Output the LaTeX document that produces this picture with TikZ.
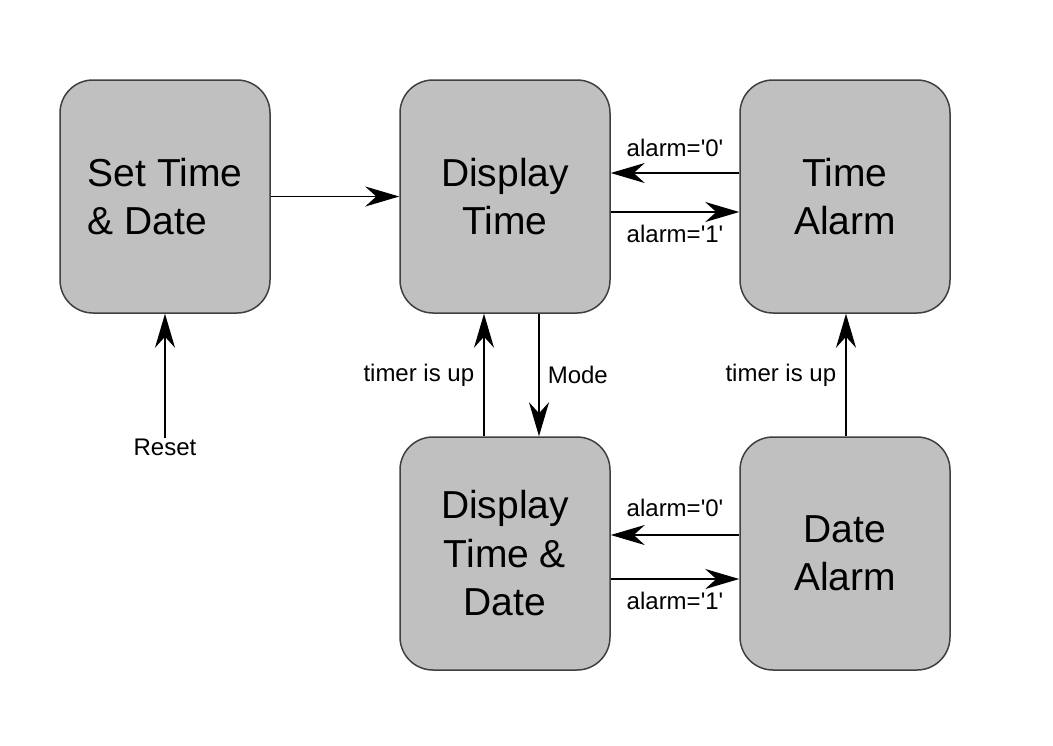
\documentclass[tikz,border=0pt]{standalone}
\usepackage{fontspec}
\setmainfont{Liberation Sans}
\usetikzlibrary{arrows.meta}
\definecolor{boxfill}{RGB}{192,192,192}
\definecolor{boxline}{RGB}{64,64,64}
\newcommand{\sq}{\textquotesingle}
\tikzset{
  statebox/.style={draw=boxline, line width=1.5pt, fill=boxfill, rounded corners=33pt,
    minimum width=210pt, minimum height=233pt, inner sep=0pt,
    font=\fontsize{39}{48.5}\selectfont, align=center},
  arr/.style={line width=1.6pt, -{Stealth[length=34pt, width=20pt, inset=11pt]}},
  lbl/.style={font=\fontsize{24}{28}\selectfont, inner sep=0pt, text=black}
}
\begin{document}
\begin{tikzpicture}[x=1pt, y=-1pt]
\useasboundingbox[fill=white] (0,0) rectangle (1053,745);
\node[statebox, align=left] (A) at (165,196.5) {Set Time\\\& Date};
\node[statebox] (B) at (505,196.5) {Display\\Time};
\node[statebox] (C) at (845,196.5) {Time\\Alarm};
\node[statebox] (D) at (505,553.5) {Display\\Time \&\\Date};
\node[statebox] (E) at (845,553.5) {Date\\Alarm};
\node[lbl] (reset) at (165,447) {Reset};

\draw[arr] (A.east) -- (B.west);
\draw[arr] ([yshift=23.5pt]C.west) -- node[lbl, above=15pt] {alarm=\sq0\sq} ([yshift=23.5pt]B.east);
\draw[arr] ([yshift=-15.5pt]B.east) -- node[lbl, below=12pt] {alarm=\sq1\sq} ([yshift=-15.5pt]C.west);
\draw[arr] ([xshift=-21pt]D.north) -- node[lbl, left=9pt] {timer is up} ([xshift=-21pt]B.south);
\draw[arr] ([xshift=34pt]B.south) -- node[lbl, right=8pt] {Mode} ([xshift=34pt]D.north);
\draw[arr] ([xshift=1pt]E.north) -- node[lbl, left=9pt] {timer is up} ([xshift=1pt]C.south);
\draw[arr] ([yshift=18.5pt]E.west) -- node[lbl, above=17pt] {alarm=\sq0\sq} ([yshift=18.5pt]D.east);
\draw[arr] ([yshift=-25.5pt]D.east) -- node[lbl, below=12pt] {alarm=\sq1\sq} ([yshift=-25.5pt]E.west);
\draw[arr] (reset.north) -- (A.south);
\end{tikzpicture}
\end{document}
